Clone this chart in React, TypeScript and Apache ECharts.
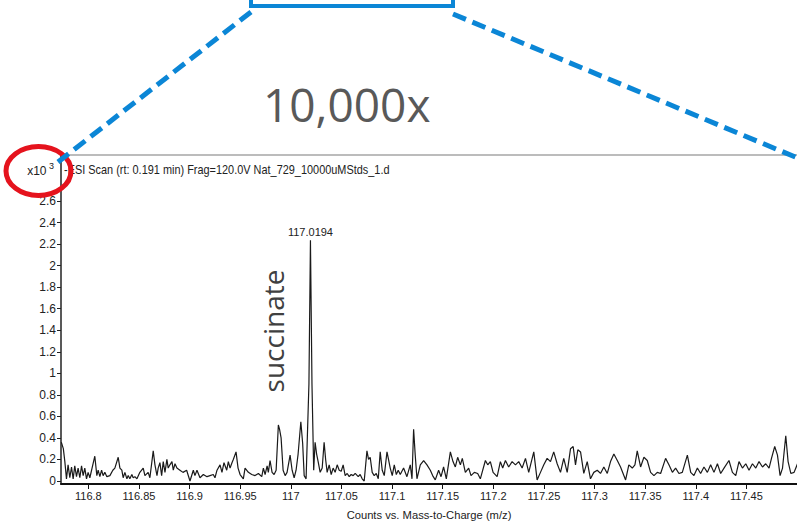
import React, { useEffect, useRef } from "react";
import * as echarts from "echarts";

// m/z and intensity (x10^3 counts)
const mzLeft = [116.7733,116.7753,116.7768,116.7784,116.7800,116.7817,116.7834,116.7850,116.7866,116.7883,116.7899,116.7916,116.7933,116.7949,116.7965,116.7982,116.7998,116.8015,116.8064,116.8084,116.8097,116.8114,116.8131,116.8146,116.8163,116.8183,116.8213,116.8242,116.8262,116.8295,116.8312,116.8331,116.8344,116.8361,116.8381,116.8394,116.8410,116.8430,116.8443,116.8460,116.8480,116.8509,116.8542,116.8559,116.8591,116.8608,116.8641,116.8658,116.8678,116.8690,116.8707,116.8724,116.8740,116.8757,116.8776,116.8789,116.8806,116.8826,116.8839,116.8856,116.8875,116.8905,116.8935,116.8971,116.9004,116.9037,116.9053,116.9073,116.9103,116.9136,116.9172,116.9202,116.9234,116.9251,116.9271,116.9301,116.9320,116.9340,116.9367,116.9383,116.9400,116.9419,116.9432,116.9459,116.9479,116.9499,116.9531,116.9548,116.9581,116.9614,116.9647,116.9680,116.9713,116.9729,116.9746,116.9766,116.9778,116.9795,116.9815,116.9835,116.9855];
const intLeft = [0.36,0.30,0.18,0.02,0.15,0.03,0.13,0.02,0.14,0.04,0.12,0.03,0.14,0.05,0.12,0.02,0.08,0.03,0.23,0.05,0.10,0.04,0.10,0.05,0.08,0.04,0.05,0.10,0.12,0.22,0.12,0.10,0.03,0.08,0.02,0.05,0.02,0.06,0.03,0.04,0.02,0.08,0.12,0.05,0.08,0.03,0.28,0.15,0.05,0.12,0.17,0.05,0.18,0.08,0.20,0.12,0.15,0.18,0.10,0.16,0.12,0.10,0.08,0.10,0.0,0.10,0.05,0.10,0.03,0.06,0.04,0.05,0.06,0.03,0.10,0.15,0.08,0.17,0.10,0.18,0.12,0.17,0.20,0.27,0.12,0.06,0.02,0.12,0.08,0.06,0.05,0.07,0.04,0.12,0.06,0.14,0.08,0.19,0.08,0.06,0.10];

const mzPeak = [116.9877,116.9889,116.9904,116.9924,116.9944,116.9963,116.9993,117.0013,117.0033,117.0052,117.0072,117.0099,117.0117,117.0132,117.0151,117.0179,117.0194,117.0209,117.0226,117.0240,117.0255,117.0270,117.0290,117.0310,117.0329,117.0344,117.0359,117.0379,117.0399,117.0418,117.0438,117.0458,117.0478,117.0498,117.0517,117.0537,117.0557,117.0577,117.0596,117.0616,117.0636,117.0666,117.0685,117.0705,117.0725,117.0752,117.0768,117.0784,117.0804,117.0824,117.0844,117.0864,117.0883,117.0903,117.0923,117.0950,117.0965,117.0982,117.1002,117.1022,117.1042,117.1061,117.1081];
const intPeak = [0.52,0.48,0.40,0.10,0.05,0.08,0.24,0.10,0.03,0.10,0.25,0.55,0.35,0.05,0.02,0.9,2.235,0.9,0.10,0.36,0.25,0.18,0.08,0.12,0.36,0.20,0.08,0.15,0.06,0.12,0.08,0.15,0.10,0.09,0.15,0.05,0.07,0.04,0.06,0.05,0.07,0.04,0.06,0.02,0.0,0.28,0.20,0.22,0.08,0.05,0.07,0.02,0.27,0.10,0.05,0.27,0.20,0.12,0.05,0.15,0.06,0.10,0.06];

const mzRight = [117.1114,117.1147,117.1180,117.1197,117.1213,117.1229,117.1246,117.1279,117.1312,117.1345,117.1378,117.1401,117.1427,117.1460,117.1484,117.1509,117.1536,117.1576,117.1602,117.1625,117.1648,117.1675,117.1694,117.1724,117.1757,117.1780,117.1813,117.1846,117.1872,117.1922,117.1945,117.1971,117.1998,117.2038,117.2070,117.2093,117.2120,117.2152,117.2186,117.2219,117.2251,117.2285,117.2318,117.2350,117.2400,117.2433,117.2466,117.2499,117.2532,117.2565,117.2597,117.2631,117.2664,117.2696,117.2730,117.2763,117.2789,117.2812,117.2835,117.2862,117.2894,117.2928,117.2960,117.2993,117.3027,117.3059,117.3092,117.3126,117.3158,117.3191,117.3225,117.3257,117.3307,117.3339,117.3373,117.3399,117.3422,117.3455,117.3488,117.3521,117.3554,117.3587,117.3620,117.3653,117.3702,117.3735,117.3769,117.3801,117.3834,117.3867,117.3917,117.3950,117.3982,117.4016,117.4048,117.4081,117.4115,117.4147,117.4180,117.4214,117.4246,117.4279,117.4328,117.4362,117.4395,117.4427,117.4461,117.4494,117.4526,117.4560,117.4593,117.4625,117.4659,117.4691,117.4724,117.4748,117.4780,117.4807,117.4833,117.4857,117.4889,117.4912,117.4939,117.4971,117.5005];
const intRight = [0.12,0.04,0.15,0.02,0.48,0.24,0.02,0.15,0.19,0.15,0.10,0.05,0.01,0.10,0.04,0.13,0.02,0.27,0.18,0.13,0.22,0.15,0.21,0.08,0.12,0.05,0.08,0.07,0.02,0.19,0.15,0.18,0.08,0.04,0.18,0.12,0.19,0.13,0.18,0.15,0.18,0.12,0.21,0.08,0.27,0.01,0.08,0.15,0.21,0.18,0.27,0.16,0.08,0.21,0.08,0.30,0.32,0.15,0.29,0.27,0.07,0.18,0.02,0.08,0.10,0.07,0.13,0.07,0.18,0.25,0.19,0.13,0.01,0.15,0.12,0.15,0.28,0.13,0.22,0.19,0.08,0.05,0.08,0.07,0.21,0.15,0.08,0.12,0.07,0.08,0.24,0.08,0.05,0.12,0.07,0.13,0.08,0.15,0.08,0.16,0.07,0.12,0.19,0.08,0.05,0.18,0.12,0.16,0.10,0.16,0.12,0.18,0.13,0.16,0.12,0.21,0.32,0.24,0.05,0.12,0.42,0.18,0.07,0.08,0.16];

const peakMz = 117.0194;
const peakIntensity = 2.235;
const peakLabel = "117.0194";

const xLabelValues = [116.8,116.85,116.9,116.95,117,117.05,117.1,117.15,117.2,117.25,117.3,117.35,117.4,117.45];
const xTickValues = [116.8,116.85,116.9,116.95,117,117.05,117.1,117.15,117.2,117.25,117.3,117.35,117.4,117.45,117.5];
const yTickValues = [0,0.2,0.4,0.6,0.8,1,1.2,1.4,1.6,1.8,2,2.2,2.4,2.6];

const headerText = "-ESI Scan (rt: 0.191 min) Frag=120.0V Nat_729_10000uMStds_1.d";
const xAxisTitle = "Counts vs. Mass-to-Charge (m/z)";
const zoomText = "10,000x";
const compoundText = "succinate";

const SANS = "'Liberation Sans', Arial, sans-serif";
const BLUE = "#0b86d6";

export default function App() {
  const ref = useRef<HTMLDivElement>(null);
  useEffect(() => {
    document.body.style.margin = "0";
    const chart = echarts.init(ref.current!, null, { renderer: "svg" });
    const mz = [...mzLeft, ...mzPeak, ...mzRight];
    const inten = [...intLeft, ...intPeak, ...intRight];
    const data = mz.map((m, i) => [m, inten[i]]);
    chart.setOption({
      animation: false,
      backgroundColor: "#ffffff",
      grid: { left: 61, right: 0, top: 155, bottom: 39.5, containLabel: false },
      xAxis: {
        type: "value",
        min: 116.773,
        max: 117.5,
        axisLine: { onZero: false, lineStyle: { color: "#111", width: 2 } },
        axisTick: { show: true, customValues: xTickValues, length: 5, lineStyle: { color: "#111", width: 1 } },
        axisLabel: { customValues: xLabelValues, color: "#222", fontSize: 11, fontFamily: SANS, margin: 6, formatter: (v: number) => String(v) },
        splitLine: { show: false },
        name: xAxisTitle,
        nameLocation: "middle",
        nameGap: 25,
        nameTextStyle: { color: "#222", fontSize: 11.2, fontFamily: SANS },
      },
      yAxis: {
        type: "value",
        min: -0.028,
        max: 3.027,
        axisLine: { show: true, onZero: false, lineStyle: { color: "#222", width: 1.5 } },
        axisTick: { show: true, customValues: yTickValues, length: 4, lineStyle: { color: "#222" } },
        axisLabel: { customValues: yTickValues, color: "#222", fontSize: 12, fontFamily: SANS, margin: 5, formatter: (v: number) => String(v) },
        splitLine: { show: false },
      },
      series: [
        {
          type: "line",
          data,
          showSymbol: false,
          symbol: "none",
          lineStyle: { color: "#1a1a1a", width: 1.2 },
          markPoint: {
            symbol: "circle",
            symbolSize: 0,
            data: [
              {
                coord: [peakMz, peakIntensity],
                label: { show: true, position: "top", distance: 3, formatter: peakLabel, color: "#222", fontSize: 11, fontFamily: SANS },
              },
            ],
          },
        },
      ],
      graphic: [
        { type: "line", z: 50, shape: { x1: 61, y1: 155, x2: 797, y2: 155 }, style: { stroke: "#a6a6a6", lineWidth: 1.5 } },
        { type: "text", z: 50, x: 64, y: 170, scaleX: 0.84, style: { text: headerText, fill: "#222", fontSize: 13, fontFamily: SANS, verticalAlign: "middle" } },
        { type: "text", z: 50, x: 46.5, y: 171, style: { text: "x10", fill: "#222", fontSize: 12, fontFamily: SANS, align: "right", verticalAlign: "middle" } },
        { type: "text", z: 50, x: 49, y: 166, style: { text: "3", fill: "#222", fontSize: 9, fontFamily: SANS, verticalAlign: "middle" } },
        { type: "ellipse", z: 60, shape: { cx: 38.5, cy: 171, rx: 32.5, ry: 24.5 }, style: { fill: "none", stroke: "#e5131d", lineWidth: 5 } },
        { type: "rect", z: 60, shape: { x: 251, y: -30, width: 202, height: 36 }, style: { fill: "none", stroke: BLUE, lineWidth: 4 } },
        { type: "line", z: 61, shape: { x1: 251, y1: 12, x2: 58, y2: 162 }, style: { stroke: BLUE, lineWidth: 5, lineDash: [14, 7] } },
        { type: "line", z: 61, shape: { x1: 453, y1: 14, x2: 800, y2: 159 }, style: { stroke: BLUE, lineWidth: 5, lineDash: [14, 7] } },
        { type: "text", z: 50, x: 263, y: 104, style: { text: zoomText, fill: "#595959", fontSize: 46, fontFamily: "'Open Sans', sans-serif", verticalAlign: "middle" } },
        { type: "text", z: 50, x: 273, y: 331, rotation: Math.PI / 2, style: { text: compoundText, fill: "#404040", fontSize: 28, fontFamily: "'Open Sans', sans-serif", align: "center", verticalAlign: "middle" } },
      ],
    });
    return () => chart.dispose();
  }, []);
  return <div ref={ref} style={{ position: "absolute", left: 0, top: 0, width: 797, height: 525 }} />;
}
